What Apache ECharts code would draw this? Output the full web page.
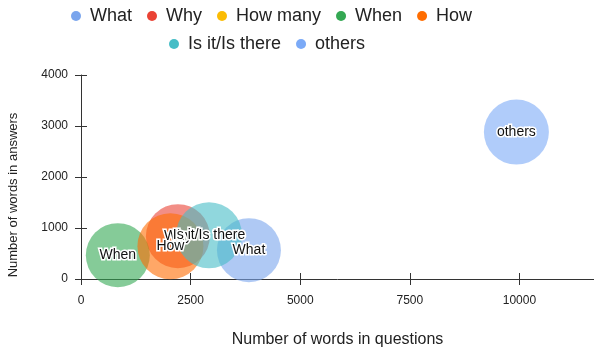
<!DOCTYPE html>
<html>
<head>
<meta charset="utf-8">
<script src="https://cdn.jsdelivr.net/npm/echarts@6/dist/echarts.min.js"></script>
<style>
  html, body { margin: 0; padding: 0; background: #fff; }
  #chart { width: 594px; height: 353px; }
</style>
</head>
<body>
<div id="chart"></div>
<script>
// question types and their bubbles
const seriesNames = ['What', 'Why', 'How many', 'When', 'How', 'Is it/Is there', 'others'];
const seriesColors = ['#7aa5ed', '#ea4335', '#fbbc04', '#34a853', '#ff6d01', '#46bdc6', '#7baaf7'];
// words in questions / words in answers / bubble size (null = no bubble)
const questionWords = [3830, 2210, null, 840, 2040, 2920, 9930];
const answerWords = [566, 840, null, 468, 644, 860, 2880];
const bubbleSizes = [64, 64, null, 64, 66, 66, 65];

const xTicks = { min: 0, max: 11700, interval: 2500 };
const yTicks = { min: 0, max: 4000, interval: 1000 };

const chart = echarts.init(document.getElementById('chart'), null, { renderer: 'canvas' });

const axisColor = '#333';
const labelColor = '#111';
const font = 'Arial, "Liberation Sans", sans-serif';

const series = seriesNames.map((name, i) => ({
  name: name,
  type: 'scatter',
  xAxisIndex: 0,
  yAxisIndex: 0,
  symbol: 'circle',
  data: questionWords[i] == null ? [] : [[questionWords[i], answerWords[i], bubbleSizes[i]]],
  symbolSize: d => d[2],
  itemStyle: { color: seriesColors[i], opacity: 0.6 },
  emphasis: { disabled: true },
  label: {
    show: true,
    position: 'inside',
    formatter: name,
    opacity: 1,
    fontFamily: font,
    fontSize: 14,
    color: labelColor,
    textBorderColor: '#fff',
    textBorderWidth: 3,
  },
}));

const legendBase = {
  icon: 'circle',
  itemWidth: 10,
  itemHeight: 10,
  itemGap: 15,
  selectedMode: false,
  itemStyle: { opacity: 1 },
  textStyle: { fontFamily: font, fontSize: 18, color: '#222', padding: [0, 0, 0, 4] },
};

const plainNumber = v => String(v);

const option = {
  animation: false,
  backgroundColor: '#fff',
  legend: [
    Object.assign({}, legendBase, { data: seriesNames.slice(0, 5), left: 66, top: 2 }),
    Object.assign({}, legendBase, { data: seriesNames.slice(5), left: 164, top: 30 }),
  ],
  grid: { left: 81, right: 0, top: 75, bottom: 73 },
  xAxis: [
    {
      type: 'value',
      min: xTicks.min,
      max: xTicks.max,
      interval: xTicks.interval,
      name: 'Number of words in questions',
      nameLocation: 'middle',
      nameGap: 53,
      nameTextStyle: { fontFamily: font, fontSize: 16, color: '#222' },
      splitLine: { show: false },
      axisLine: { lineStyle: { color: axisColor } },
      axisTick: { length: 6, lineStyle: { color: axisColor } },
      axisLabel: { fontFamily: font, fontSize: 12, color: '#222', margin: 16, showMaxLabel: false, formatter: plainNumber },
    },
    {
      type: 'value',
      position: 'bottom',
      min: xTicks.min,
      max: xTicks.max,
      interval: xTicks.interval,
      splitLine: { show: false },
      axisLine: { show: false },
      axisTick: { inside: true, length: 6, lineStyle: { color: axisColor } },
      axisLabel: { show: false },
    },
  ],
  yAxis: [
    {
      type: 'value',
      min: yTicks.min,
      max: yTicks.max,
      interval: yTicks.interval,
      splitLine: { show: false },
      axisLine: { show: true, lineStyle: { color: axisColor } },
      axisTick: { show: true, length: 6, lineStyle: { color: axisColor } },
      axisLabel: { fontFamily: font, fontSize: 12, color: '#222', margin: 13, formatter: plainNumber },
    },
    {
      type: 'value',
      position: 'left',
      min: yTicks.min,
      max: yTicks.max,
      interval: yTicks.interval,
      splitLine: { show: false },
      axisLine: { show: false },
      axisTick: { show: true, inside: true, length: 6, lineStyle: { color: axisColor } },
      axisLabel: { show: false },
    },
  ],
  graphic: [
    {
      type: 'text',
      x: 13,
      y: 195,
      rotation: Math.PI / 2,
      style: {
        text: 'Number of words in answers',
        font: '13px ' + font,
        fill: '#222',
        textAlign: 'center',
        textVerticalAlign: 'middle',
      },
    },
  ],
  series: series,
};

chart.setOption(option);
window.addEventListener('resize', chart.resize);
</script>
</body>
</html>
